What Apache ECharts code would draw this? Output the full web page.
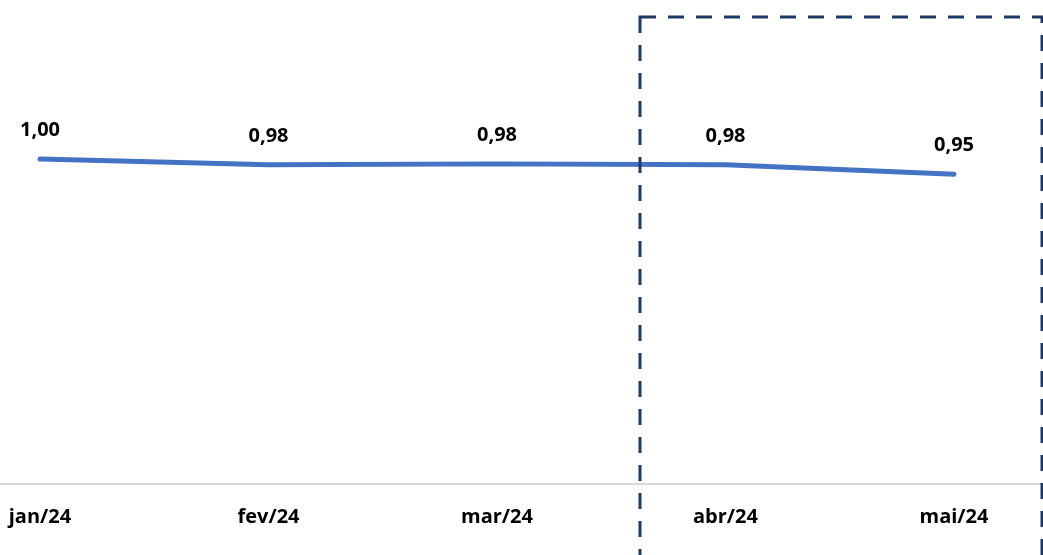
<!DOCTYPE html>
<html>
<head>
<meta charset="utf-8">
<script src="https://cdn.jsdelivr.net/npm/echarts@6/dist/echarts.min.js"></script>
<style>
html,body{margin:0;padding:0;background:#fff;}
#chart{width:1043px;height:555px;}
</style>
</head>
<body>
<div id="chart"></div>
<script>
const categories = ['jan/24', 'fev/24', 'mar/24', 'abr/24', 'mai/24'];
const values = [1.00, 0.982, 0.985, 0.982, 0.953];

const chart = echarts.init(document.getElementById('chart'), null, {renderer: 'canvas'});
const fontFam = '"Open Sans", Lato, sans-serif';
chart.setOption({
  animation: false,
  backgroundColor: '#ffffff',
  grid: {left: 40, right: 89, top: 29, bottom: 71, containLabel: false},
  xAxis: {
    type: 'category',
    data: categories,
    boundaryGap: false,
    axisLine: {show: false},
    axisTick: {show: false},
    splitLine: {show: false},
    axisLabel: {
      color: '#000', fontSize: 20, fontWeight: 'bold', fontFamily: fontFam, margin: 23
    }
  },
  yAxis: {
    type: 'value', min: 0, max: 1.4, show: false, splitLine: {show: false}
  },
  graphic: [
    {type: 'line', z: 1, shape: {x1: 0, y1: 484, x2: 1043, y2: 484},
     style: {stroke: '#d9d9d9', lineWidth: 2}},
    {type: 'rect', z: 100, shape: {x: 640, y: 17, width: 402, height: 600},
     style: {fill: 'none', stroke: '#1f3864', lineWidth: 3, lineDash: [16, 12]}}
  ],
  series: [{
    type: 'line',
    data: values,
    symbol: 'circle',
    symbolSize: 1,
    showSymbol: true,
    itemStyle: {color: 'rgba(0,0,0,0)'},
    lineStyle: {color: '#4472c4', width: 5, cap: 'round'},
    label: {
      show: true, position: 'top', distance: 18,
      color: '#000', fontSize: 20, fontWeight: 'bold', fontFamily: fontFam,
      formatter: p => p.value.toFixed(2).replace('.', ',')
    }
  }]
});
</script>
</body>
</html>
